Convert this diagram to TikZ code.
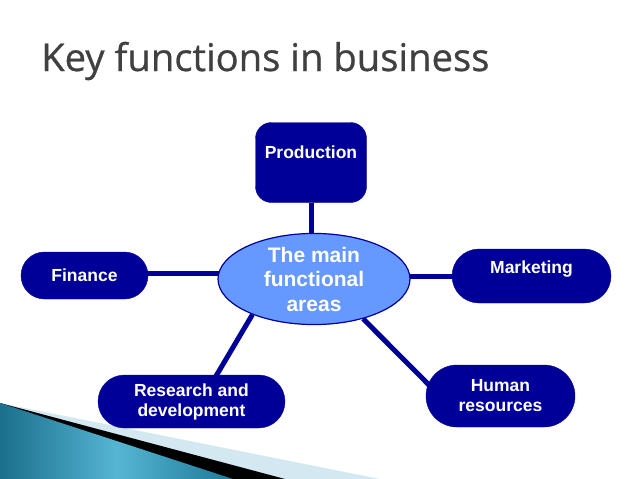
\documentclass[tikz,border=0pt]{standalone}
\usepackage{fontspec}
\setmainfont{Liberation Sans}
\newfontfamily\titlefont[FakeBold=0.7]{Open Sans}
\usetikzlibrary{shapes.geometric,backgrounds,calc}
\definecolor{navy}{HTML}{000099}
\definecolor{ellfill}{HTML}{6699FF}
\definecolor{titlegray}{HTML}{404040}
\definecolor{tealA}{HTML}{1A6F8C}
\definecolor{tealB}{HTML}{55B5D3}
\definecolor{tealC}{HTML}{1D7A98}
\definecolor{paleblue}{HTML}{D3E8F0}
\begin{document}
\begin{tikzpicture}[x=1pt,y=-1pt,
  box/.style={fill=navy, draw=navy, text=white, font=\bfseries\fontsize{17.5}{20}\selectfont, align=center, inner sep=0pt},
  link/.style={draw=navy, line width=5pt}]
\useasboundingbox (0,0) rectangle (638,479);
% decoration
\fill[paleblue] (0,403) -- (380,479) -- (0,479) -- cycle;
\fill[black] (0,403) -- (285,479) -- (0,479) -- cycle;
\shade[left color=tealA, right color=tealC, middle color=tealB] (0,403) -- (233,479) -- (0,479) -- cycle;
% title
\node[anchor=base west, font=\titlefont\fontsize{38.2}{40}\selectfont, text=titlegray, inner sep=0pt] (title) at (41,71) {Key functions in business};
% nodes
\node[ellipse, fill=ellfill, draw=navy, line width=1.2pt, minimum width=192pt, minimum height=90pt, inner sep=0pt, text=white, font=\bfseries\fontsize{21}{24.5}\selectfont, align=center] (c) at (314,279) {The main\\functional\\areas};
\node[box, rounded corners=16pt, minimum width=111pt, minimum height=80pt, text height=13pt, text depth=22pt] (prod) at (311,162.5) {Production};
\node[box, rounded corners=23.5pt, minimum width=127pt, minimum height=47pt, text height=12.5pt, text depth=0pt] (fin) at (84.5,275.5) {Finance};
\node[box, rounded corners=27pt, minimum width=159pt, minimum height=54pt, text height=13pt, text depth=19pt] (mk) at (531.5,276) {Marketing};
\node[box, rounded corners=26.5pt, minimum width=187pt, minimum height=53pt] (rd) at (191.5,401.5) {Research and\\development};
\node[box, rounded corners=31pt, minimum width=149pt, minimum height=62pt] (hr) at (500.5,396) {Human\\resources};
% connectors
\begin{scope}[on background layer]
\draw[link] (prod.south) -- (prod.south |- c.north);
\draw[link] ([yshift=2.5pt]fin.center) -- ([yshift=2.5pt]fin.center -| c.center);
\draw[link] (mk.center) -- (mk.center -| c.center);
\draw[link] (c.210.5) -- ([xshift=23.5pt,yshift=-3pt]rd.north);
\draw[link] (c.-39) -- ([xshift=-68.5pt,yshift=8pt]hr.center);
\end{scope}
\end{tikzpicture}
\end{document}
